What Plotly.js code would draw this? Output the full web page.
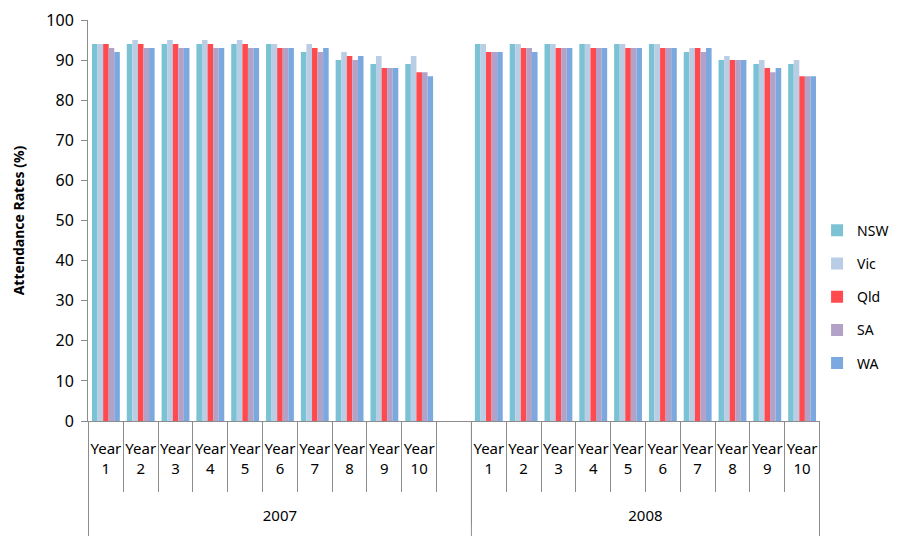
<!DOCTYPE html>
<html>
<head>
<meta charset="utf-8">
<script src="https://cdn.plot.ly/plotly-3.0.1.min.js"></script>
<style>
  html, body { margin: 0; padding: 0; background: #fff; }
  #chart { width: 897px; height: 536px; }
</style>
</head>
<body>
<div id="chart"></div>
<script>
(() => {
    "use strict";

    const years = ["2007", "2008"];
    const levels = ["Year<br>1", "Year<br>2", "Year<br>3", "Year<br>4", "Year<br>5",
                    "Year<br>6", "Year<br>7", "Year<br>8", "Year<br>9", "Year<br>10"];

    const nsw2007 = [94, 94, 94, 94, 94, 94, 92, 90, 89, 89];
    const vic2007 = [94, 95, 95, 95, 95, 94, 94, 92, 91, 91];
    const qld2007 = [94, 94, 94, 94, 94, 93, 93, 91, 88, 87];
    const sa2007  = [93, 93, 93, 93, 93, 93, 92, 90, 88, 87];
    const wa2007  = [92, 93, 93, 93, 93, 93, 93, 91, 88, 86];

    const nsw2008 = [94, 94, 94, 94, 94, 94, 92, 90, 89, 89];
    const vic2008 = [94, 94, 94, 94, 94, 94, 93, 91, 90, 90];
    const qld2008 = [92, 93, 93, 93, 93, 93, 93, 90, 88, 86];
    const sa2008  = [92, 93, 93, 93, 93, 93, 92, 90, 87, 86];
    const wa2008  = [92, 92, 93, 93, 93, 93, 93, 90, 88, 86];

    // year labels sit low in the original, two blank lines push them down
    const yearLabels = years.map((y) => "<br><br>" + y);

    // 2007 block carries one empty slot at its end, as in the original sheet
    const outer = [...levels.map(() => yearLabels[0]), yearLabels[0], ...levels.map(() => yearLabels[1])];
    const inner = [...levels, " ", ...levels];
    const joinYears = (a, b) => [...a, null, ...b];

    const series = [
        { name: "NSW", y: joinYears(nsw2007, nsw2008), color: "#7cc2d5" },
        { name: "Vic", y: joinYears(vic2007, vic2008), color: "#b9cde5" },
        { name: "Qld", y: joinYears(qld2007, qld2008), color: "#ff4b4f" },
        { name: "SA",  y: joinYears(sa2007, sa2008),   color: "#b2a2c7" },
        { name: "WA",  y: joinYears(wa2007, wa2008),   color: "#7ba8de" },
    ];

    const traces = series.map((s) => ({
        type: "bar",
        name: s.name,
        legendgroup: s.name,
        x: [outer, inner],
        y: s.y,
        marker: { color: s.color },
    }));

    // long group dividers, running to the bottom edge like the original
    const nCats = inner.length;
    const groupEdges = [-0.5, levels.length + 0.5, nCats - 0.5];
    const shapes = groupEdges.map((xv) => ({
        type: "line", xref: "x", yref: "paper",
        x0: xv, x1: xv, y0: 0, y1: -0.29,
        line: { color: "#8c8c8c", width: 1 },
    }));

    const layout = {
        width: 897,
        height: 536,
        margin: { l: 88, r: 77, t: 20, b: 115, autoexpand: false },
        paper_bgcolor: "#fff",
        plot_bgcolor: "#fff",
        font: { family: "Noto Sans, sans-serif", size: 14, color: "#000" },
        barmode: "group",
        bargap: 0.2,
        bargroupgap: 0,
        showlegend: true,
        legend: {
            x: 0.996, y: 0.31, xanchor: "left", yanchor: "middle",
            bgcolor: "rgba(0,0,0,0)",
            font: { size: 14 },
            tracegroupgap: 12,
            itemwidth: 30,
        },
        shapes: shapes,
        xaxis: {
            type: "multicategory",
            showline: true,
            linecolor: "#8c8c8c",
            ticks: "outside",
            ticklen: 70,
            tickcolor: "#8c8c8c",
            tickson: "boundaries",
            tickangle: 0,
            ticklabelstandoff: 14,
            showdividers: true,
            dividercolor: "#8c8c8c",
            dividerwidth: 1,
            tickfont: { size: 15 },
            showgrid: false,
        },
        yaxis: {
            range: [0, 100],
            dtick: 10,
            showline: true,
            linecolor: "#8c8c8c",
            ticks: "outside",
            ticklen: 6,
            tickcolor: "#8c8c8c",
            ticklabelstandoff: 4,
            showgrid: false,
            zeroline: false,
            tickfont: { size: 16 },
            title: { text: "<b>Attendance Rates (%)</b>", font: { size: 14 }, standoff: 18 },
        },
    };

    Plotly.newPlot("chart", traces, layout, { displayModeBar: false, responsive: false });
})();
</script>
</body>
</html>
